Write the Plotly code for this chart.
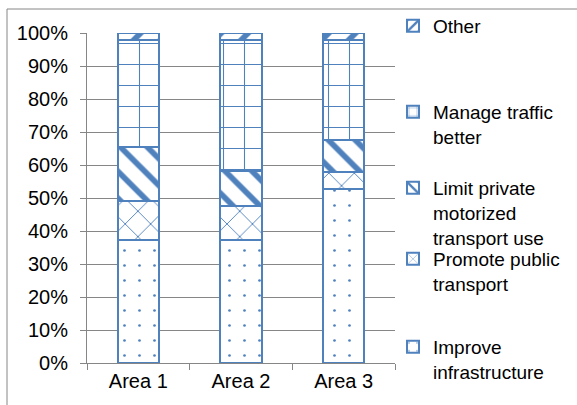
import plotly.graph_objects as go

categories = ["Area 1", "Area 2", "Area 3"]
improve = [37.2, 37.4, 52.8]
promote = [11.8, 10.3, 5.1]
limit_private = [16.6, 10.6, 9.8]
manage = [32.4, 39.7, 30.3]
other = [2.0, 2.0, 2.0]

series_names = ["Improve<br>infrastructure", "Promote public<br>transport",
                "Limit private<br>motorized<br>transport use", "Manage traffic<br>better", "Other"]
series_values = [improve, promote, limit_private, manage, other]
patterns = [
    dict(shape=".", size=15, solidity=0.025),
    dict(shape="x", size=18, solidity=0.1),
    dict(shape="\\", size=19, solidity=0.3),
    dict(shape="+", size=21, solidity=0.1),
    dict(shape="/", size=19, solidity=0.3),
]
legend_ids = ["legend5", "legend4", "legend3", "legend2", "legend"]
# first-line centre pixel of each legend entry (bottom to top)
legend_py = [347, 259, 188, 112, 26]

BLUE = "#4F81BD"
GRAY = "#868686"
FONT = "Liberation Sans, Arial, sans-serif"
FS = 20
LFS = 19

L, R, T, B = 87, 182, 33, 42
W, H = 577, 405
PH = H - T - B
PW = W - L - R

fig = go.Figure()
for name, vals, pat, lg in zip(series_names, series_values, patterns, legend_ids):
    fig.add_trace(go.Bar(
        x=categories, y=vals, name=name, legend=lg,
        marker=dict(color="white", line=dict(color=BLUE, width=2),
                    pattern=dict(fgcolor=BLUE, bgcolor="white", fillmode="replace",
                                 fgopacity=1, **pat)),
        width=0.4,
    ))

def legend_cfg(py):
    return dict(
        x=(433 - 40 - L) / PW, xanchor="left",
        y=(H - B - (py - 19)) / PH, yanchor="top",
        font=dict(family=FONT, size=LFS, color="black"),
        valign="top", bgcolor="rgba(0,0,0,0)", borderwidth=0,
        tracegroupgap=0, itemclick=False,
    )

legs = {}
for lg, py in zip(legend_ids, legend_py):
    legs[lg] = legend_cfg(py)

fig.update_layout(
    width=W, height=H,
    margin=dict(l=L, r=R, t=T, b=B, autoexpand=False),
    barmode="stack",
    paper_bgcolor="white", plot_bgcolor="white",
    font=dict(family=FONT, size=FS, color="black"),
    showlegend=True,
    **legs,
    xaxis=dict(showline=True, linecolor=GRAY, linewidth=1, ticks="outside",
               tickson="boundaries", ticklen=6, tickcolor=GRAY, showgrid=False,
               tickfont=dict(size=FS), fixedrange=True),
    yaxis=dict(range=[0, 100], dtick=10, ticksuffix="%", showline=True, linecolor=GRAY,
               linewidth=1, ticks="outside", ticklen=6, tickcolor=GRAY,
               showgrid=True, gridcolor=GRAY, gridwidth=1, zeroline=False,
               tickfont=dict(size=FS), ticklabelstandoff=8, fixedrange=True),
    shapes=[dict(type="rect", xref="paper", yref="paper",
                 x0=(7 - L) / PW, x1=2, y0=-1, y1=(H - B - 9) / PH,
                 line=dict(color=GRAY, width=1), fillcolor="rgba(0,0,0,0)", layer="above")],
)

fig.write_html("out.html", config={"displayModeBar": False},
               post_script="document.body.style.margin='0';document.body.style.padding='0';")
